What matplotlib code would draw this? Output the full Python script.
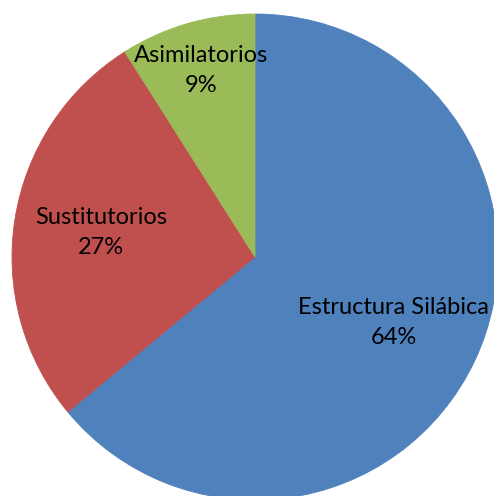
import matplotlib.pyplot as plt

categories = ["Estructura Silábica", "Sustitutorios", "Asimilatorios"]
values = [64, 27, 9]
colors = ["#4F81BD", "#C0504D", "#9BBB59"]

plt.rcParams['font.family'] = ['Lato', 'DejaVu Sans']

W, H = 494, 496
fig = plt.figure(figsize=(W / 100, H / 100), dpi=100)
ax = fig.add_axes([0, 0, 1, 1])

# pie centre and radius in pixels
cx, cy, r = 255, 257, 243

def fmt(pct):
    return ""

wedges, texts, autotexts = ax.pie(values, colors=colors, startangle=90, counterclock=False,
                                  autopct=fmt, pctdistance=0.63,
                                  wedgeprops=dict(linewidth=0.6))

for w, c in zip(wedges, colors):
    w.set_edgecolor(c)

dist = [0.63, 0.64, 0.80]
for t, name, v, d in zip(autotexts, categories, values, dist):
    x, y = t.get_position()
    t.set_position((x * d / 0.63, y * d / 0.63))
    t.set_text(f"{name}\n{v}%")
    t.set_fontsize(17)
    t.set_color("black")
    t.set_linespacing(1.55)

ax.set_xlim(-cx / r, (W - cx) / r)
ax.set_ylim(-(H - cy) / r, cy / r)
ax.set_aspect('equal')
ax.axis('off')

plt.savefig("out.png", dpi=100)
